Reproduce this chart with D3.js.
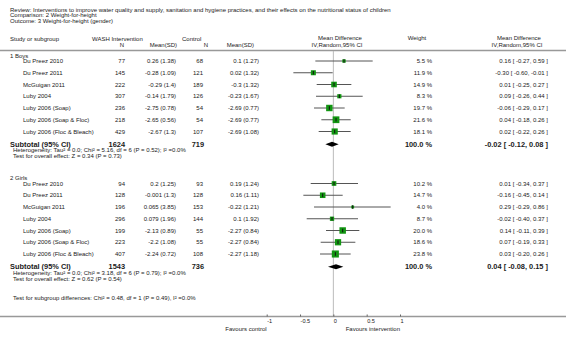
<!DOCTYPE html>
<html>
<head>
<meta charset="utf-8">
<script src="https://cdn.jsdelivr.net/npm/d3@7"></script>
<style>
  body { margin: 0; background: #fff; }
  text { font-family: "Liberation Sans", Arial, sans-serif; fill: #1a1a1a; }
</style>
</head>
<body>
<div id="chart"></div>
<script>
// Forest plot data
const titleLines = [
    "Review:  Interventions to improve water quality and supply, sanitation and hygiene practices, and their effects on the nutritional status of children",
    "Comparison:  2 Weight-for-height",
    "Outcome:  3 Weight-for-height (gender)"
];
const studyNames = ["Du Preez 2010", "Du Preez 2011", "McGuigan 2011", "Luby 2004",
    "Luby 2006 (Soap)", "Luby 2006 (Soap & Floc)", "Luby 2006 (Floc & Bleach)"];

const boysIntN = [77, 145, 222, 307, 236, 218, 429];
const boysIntMean = [0.26, -0.28, -0.29, -0.14, -2.75, -2.65, -2.67];
const boysIntSD = [1.38, 1.09, 1.4, 1.79, 0.78, 0.56, 1.3];
const boysCtlN = [68, 121, 189, 126, 54, 54, 107];
const boysCtlMean = [0.1, 0.02, -0.3, -0.23, -2.69, -2.69, -2.69];
const boysCtlSD = [1.27, 1.32, 1.32, 1.67, 0.77, 0.77, 1.08];
const boysWeight = [5.5, 11.9, 14.9, 8.3, 19.7, 21.6, 18.1];
const boysMD = [0.16, -0.30, 0.01, 0.09, -0.06, 0.04, 0.02];
const boysLo = [-0.27, -0.60, -0.25, -0.26, -0.29, -0.18, -0.22];
const boysHi = [0.59, -0.01, 0.27, 0.44, 0.17, 0.26, 0.26];

const girlsIntN = [94, 128, 196, 296, 199, 223, 407];
const girlsIntMean = [0.2, -0.001, 0.065, 0.079, -2.13, -2.2, -2.24];
const girlsIntSD = [1.25, 1.3, 3.85, 1.96, 0.89, 1.08, 0.72];
const girlsCtlN = [93, 128, 153, 144, 55, 55, 108];
const girlsCtlMean = [0.19, 0.16, -0.22, 0.1, -2.27, -2.27, -2.27];
const girlsCtlSD = [1.24, 1.11, 1.21, 1.92, 0.84, 0.84, 1.18];
const girlsWeight = [10.2, 14.7, 4.0, 8.7, 20.0, 18.6, 23.8];
const girlsMD = [0.01, -0.16, 0.29, -0.02, 0.14, 0.07, 0.03];
const girlsLo = [-0.34, -0.45, -0.29, -0.40, -0.11, -0.19, -0.20];
const girlsHi = [0.37, 0.14, 0.86, 0.37, 0.39, 0.33, 0.26];

// subtotals: [boys, girls]
const subgroupNames = ["1 Boys", "2 Girls"];
const subtotalIntN = [1624, 1543];
const subtotalCtlN = [719, 736];
const subtotalMD = [-0.02, 0.04];
const subtotalLo = [-0.12, -0.08];
const subtotalHi = [0.08, 0.15];
const heterogeneity = [
    "Heterogeneity: Tau\u00B2 = 0.0; Chi\u00B2 = 5.16, df = 6 (P = 0.52); I\u00B2 =0.0%",
    "Heterogeneity: Tau\u00B2 = 0.0; Chi\u00B2 = 3.18, df = 6 (P = 0.79); I\u00B2 =0.0%"
];
const overallEffect = [
    "Test for overall effect: Z = 0.34 (P = 0.73)",
    "Test for overall effect: Z = 0.62 (P = 0.54)"
];
const subgroupDiff = "Test for subgroup differences: Chi\u00B2 = 0.48, df = 1 (P = 0.49), I\u00B2 =0.0%";
const axisTicks = [-1, -0.5, 0, 0.5, 1];

// layout
const width = 566, height = 341;
const fs = 6, fsBold = 7.4;
const rowStep = 11.75;
const groupTop = [55.5, 178];

const svg = d3.select("#chart").append("svg")
    .attr("width", width)
    .attr("height", height);

svg.append("rect").attr("width", width).attr("height", height).attr("fill", "#fff");

const x = d3.scaleLinear().domain([-1, 1]).range([266.7, 400]);

function txt(s, tx, ty, anchor, size, bold) {
    return svg.append("text")
        .attr("x", tx).attr("y", ty)
        .attr("dominant-baseline", "central")
        .attr("text-anchor", anchor || "start")
        .style("font-size", (size || fs) + "px")
        .style("font-weight", bold ? "bold" : "normal")
        .text(s);
}

// title block
titleLines.forEach((s, i) => txt(s, 10, 9.5 + i * 5.5));

// column headers
txt("Study or subgroup", 10, 38.5);
txt("WASH Intervention", 92, 38.5);
txt("N", 124, 44.5, "end");
txt("Mean(SD)", 177, 44.5, "end");
txt("Control", 182, 38.5);
txt("N", 208, 44.5, "end");
txt("Mean(SD)", 254, 44.5, "end");
txt("Mean Difference", 340, 37.5, "middle");
txt("IV,Random,95% CI", 337, 44.5, "middle");
txt("Weight", 417, 37.5, "middle");
txt("Mean Difference", 519, 37.5, "middle");
txt("IV,Random,95% CI", 517, 44.5, "middle");

svg.append("line")
    .attr("x1", 0).attr("x2", width)
    .attr("y1", 50.5).attr("y2", 50.5)
    .attr("stroke", "#999").attr("stroke-width", 1.5);

// zero line
svg.append("line")
    .attr("x1", x(0)).attr("x2", x(0))
    .attr("y1", 51).attr("y2", 316.5)
    .attr("stroke", "#bbb").attr("stroke-width", 1);

const groups = [
    { intN: boysIntN, intMean: boysIntMean, intSD: boysIntSD, ctlN: boysCtlN, ctlMean: boysCtlMean,
      ctlSD: boysCtlSD, weight: boysWeight, md: boysMD, lo: boysLo, hi: boysHi },
    { intN: girlsIntN, intMean: girlsIntMean, intSD: girlsIntSD, ctlN: girlsCtlN, ctlMean: girlsCtlMean,
      ctlSD: girlsCtlSD, weight: girlsWeight, md: girlsMD, lo: girlsLo, hi: girlsHi }
];

const ciText = (m, l, h) => m.toFixed(2) + " [ " + l.toFixed(2) + ", " + h.toFixed(2) + " ]";
const boxSize = w => 1.45 * Math.sqrt(w);

groups.forEach((g, gi) => {
    const top = groupTop[gi];
    txt(subgroupNames[gi], 10, top);

    const rows = studyNames.map((name, i) => ({
        name: name, y: top + 5.5 + i * rowStep,
        intN: g.intN[i], intMean: g.intMean[i], intSD: g.intSD[i],
        ctlN: g.ctlN[i], ctlMean: g.ctlMean[i], ctlSD: g.ctlSD[i],
        weight: g.weight[i], md: g.md[i], lo: g.lo[i], hi: g.hi[i]
    }));

    rows.forEach(d => {
        txt(d.name, 23, d.y);
        txt(d.intN, 125, d.y, "end");
        txt(d.intMean + " (" + d.intSD + ")", 176, d.y, "end");
        txt(d.ctlN, 203, d.y, "end");
        txt(d.ctlMean + " (" + d.ctlSD + ")", 259, d.y, "end");
        txt(d.weight.toFixed(1) + " %", 432, d.y, "end");
        txt(ciText(d.md, d.lo, d.hi), 548, d.y, "end");
    });

    const plot = svg.append("g");
    plot.selectAll("line.ci")
        .data(rows)
        .enter()
        .append("line")
        .attr("class", "ci")
        .attr("x1", d => x(d.lo)).attr("x2", d => x(d.hi))
        .attr("y1", d => d.y).attr("y2", d => d.y)
        .attr("stroke", "#555").attr("stroke-width", 1);

    plot.selectAll("rect.box")
        .data(rows)
        .enter()
        .append("rect")
        .attr("class", "box")
        .attr("x", d => x(d.md) - boxSize(d.weight) / 2)
        .attr("y", d => d.y - boxSize(d.weight) / 2)
        .attr("width", d => boxSize(d.weight))
        .attr("height", d => boxSize(d.weight))
        .attr("fill", "#129612");

    plot.selectAll("line.tick")
        .data(rows)
        .enter()
        .append("line")
        .attr("class", "tick")
        .attr("x1", d => x(d.md)).attr("x2", d => x(d.md))
        .attr("y1", d => d.y - 1.8).attr("y2", d => d.y + 1.8)
        .attr("stroke", "#111").attr("stroke-width", 1);

    // subtotal row
    const sy = top + 5.5 + 7 * rowStep + 1;
    txt("Subtotal (95% CI)", 10, sy, "start", fsBold, true);
    txt(subtotalIntN[gi], 125, sy, "end", fsBold, true);
    txt(subtotalCtlN[gi], 204, sy, "end", fsBold, true);
    txt("100.0 %", 432, sy, "end", fsBold, true);
    txt(ciText(subtotalMD[gi], subtotalLo[gi], subtotalHi[gi]), 548, sy, "end", fsBold, true);

    svg.append("path")
        .attr("d", d3.line()([
            [x(subtotalLo[gi]), sy], [x(subtotalMD[gi]), sy - 2.6],
            [x(subtotalHi[gi]), sy], [x(subtotalMD[gi]), sy + 2.6]
        ]) + "Z")
        .attr("fill", "#000");

    txt(heterogeneity[gi], 13, sy + 6.2);
    txt(overallEffect[gi], 13, sy + 11.8);
});

txt(subgroupDiff, 13, 297.5);

// axis
svg.append("line")
    .attr("x1", 0).attr("x2", width)
    .attr("y1", 316.5).attr("y2", 316.5)
    .attr("stroke", "#999").attr("stroke-width", 1.5);

const axis = svg.append("g")
    .attr("transform", "translate(0,316.5)")
    .call(d3.axisBottom(x).tickValues(axisTicks).tickFormat(d => String(d))
        .tickSizeInner(-2).tickSizeOuter(0).tickPadding(2.5));
axis.select(".domain").remove();
axis.selectAll(".tick line").attr("stroke", "#666");
axis.selectAll(".tick text")
    .attr("text-anchor", "start")
    .style("font-size", "5.6px")
    .style("font-family", "Liberation Sans, Arial, sans-serif")
    .attr("fill", "#222");

txt("Favours control", x(-1), 328.5, "end");
txt("Favours intervention", x(1), 328.5, "end");
</script>
</body>
</html>
